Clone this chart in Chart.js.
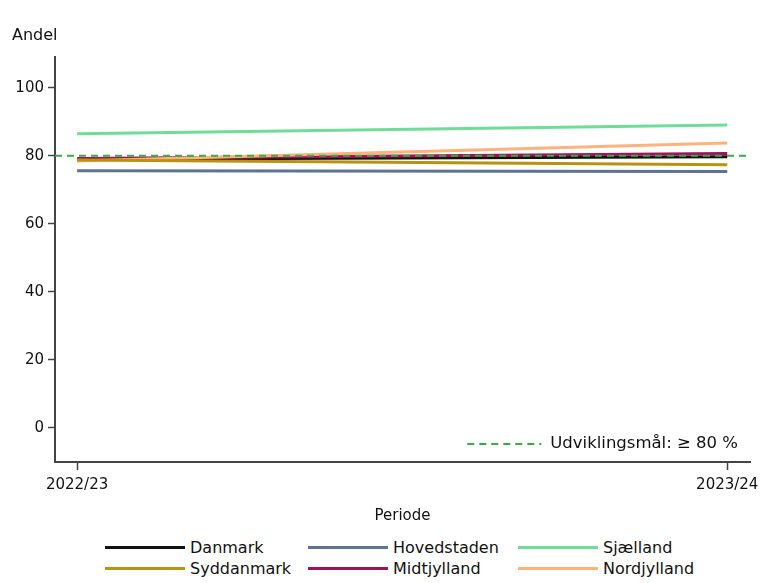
<!DOCTYPE html>
<html>
<head>
<meta charset="utf-8">
<script src="https://cdn.jsdelivr.net/npm/chart.js@4/dist/chart.umd.min.js"></script>
<style>
  body { margin: 0; background: #fff; font-family: 'DejaVu Sans', sans-serif; }
  #wrap { position: relative; width: 766px; height: 583px; }
  #chartBox { position: absolute; left: 0; top: 0; width: 766px; height: 530px; }
  #legend { position: absolute; left: 105px; top: 537px; display: grid;
            grid-template-columns: 203px 210px 200px; row-gap: 1px; font-size: 16px; color: #111; }
  .item { display: flex; align-items: center; height: 20px; }
  .swatch { width: 80px; height: 3px; margin-right: 5px; }
</style>
</head>
<body>
<div id="wrap">
  <div id="chartBox"><canvas id="chart"></canvas></div>
  <div id="legend"></div>
</div>
<script>
// Data
const periods = ['2022/23', '2023/24'];
const regions = ['Danmark', 'Hovedstaden', 'Sjælland', 'Syddanmark', 'Midtjylland', 'Nordjylland'];
const danmark = [79.0, 79.7];
const hovedstaden = [75.6, 75.4];
const sjaelland = [86.5, 89.1];
const syddanmark = [78.8, 77.4];
const midtjylland = [79.2, 80.7];
const nordjylland = [78.5, 83.8];
const targetValue = 80;
const targetLabel = 'Udviklingsmål: ≥ 80 %';
const yTicks = [0, 20, 40, 60, 80, 100];

const colors = {
    'Danmark': '#111111',
    'Hovedstaden': '#5c7391',
    'Sjælland': '#6fdc98',
    'Syddanmark': '#b8930f',
    'Midtjylland': '#a3105c',
    'Nordjylland': '#ffb27c'
};
const seriesValues = {
    'Danmark': danmark,
    'Hovedstaden': hovedstaden,
    'Sjælland': sjaelland,
    'Syddanmark': syddanmark,
    'Midtjylland': midtjylland,
    'Nordjylland': nordjylland
};

// draw order: bottom first
const drawOrder = ['Hovedstaden', 'Syddanmark', 'Nordjylland', 'Sjælland', 'Midtjylland', 'Danmark'];

const datasets = drawOrder.map(name => ({
    label: name,
    data: seriesValues[name].map((v, i) => ({ x: i, y: v })),
    borderColor: colors[name],
    borderWidth: 3,
    pointRadius: 0,
    fill: false,
    tension: 0
}));

// dashed target line + inner legend
const targetPlugin = {
    id: 'target',
    afterDatasetsDraw(chart) {
        const ctx = chart.ctx;
        const area = chart.chartArea;
        const y = chart.scales.y.getPixelForValue(targetValue);
        ctx.save();
        ctx.strokeStyle = '#3aaa45';
        ctx.lineWidth = 2;
        ctx.setLineDash([7, 5]);
        ctx.beginPath();
        ctx.moveTo(area.left, y);
        ctx.lineTo(area.right, y);
        ctx.stroke();

        // legend entry inside plot
        const ly = area.bottom - 18;
        const lx2 = area.right - 12;
        ctx.font = '16.5px "DejaVu Sans"';
        const tw = ctx.measureText(targetLabel).width;
        const textX = lx2 - tw;
        ctx.beginPath();
        ctx.moveTo(textX - 83, ly);
        ctx.lineTo(textX - 9, ly);
        ctx.stroke();
        ctx.setLineDash([]);
        ctx.fillStyle = '#111';
        ctx.textBaseline = 'middle';
        ctx.fillText(targetLabel, textX, ly);
        ctx.restore();
    }
};

new Chart(document.getElementById('chart').getContext('2d'), {
    type: 'line',
    data: { datasets },
    plugins: [targetPlugin],
    options: {
        responsive: true,
        maintainAspectRatio: false,
        animation: false,
        layout: { padding: { left: 12, right: 16, top: 26, bottom: 0 } },
        plugins: {
            legend: { display: false },
            tooltip: { enabled: false },
            title: {
                display: true,
                text: 'Andel',
                align: 'start',
                color: '#111',
                font: { family: 'DejaVu Sans', size: 16, weight: 'normal' },
                padding: { top: 0, bottom: 12 }
            }
        },
        scales: {
            x: {
                type: 'linear',
                min: -0.034,
                max: 1.035,
                afterBuildTicks: axis => { axis.ticks = periods.map((p, i) => ({ value: i })); },
                afterFit: axis => { axis.height = 68; },
                ticks: {
                    callback: v => periods[v],
                    color: '#111',
                    maxRotation: 0,
                    padding: 6,
                    font: { family: 'DejaVu Sans', size: 15 }
                },
                grid: { drawOnChartArea: false, drawTicks: true, tickLength: 8, color: '#444', tickWidth: 1.5 },
                border: { display: true, color: '#444', width: 2 },
                title: {
                    display: true,
                    text: 'Periode',
                    color: '#111',
                    font: { family: 'DejaVu Sans', size: 15 },
                    padding: { top: 10, bottom: 5 }
                }
            },
            y: {
                min: -10,
                max: 109,
                afterBuildTicks: axis => { axis.ticks = yTicks.map(v => ({ value: v })); },
                afterFit: axis => { axis.width = 43; },
                ticks: {
                    color: '#111',
                    padding: 4,
                    font: { family: 'DejaVu Sans', size: 15 }
                },
                grid: { drawOnChartArea: false, drawTicks: true, tickLength: 7, color: '#444', tickWidth: 1.5 },
                border: { display: true, color: '#444', width: 2 }
            }
        }
    }
});

// HTML legend in the reference's 3x2 layout
const legendOrder = ['Danmark', 'Hovedstaden', 'Sjælland', 'Syddanmark', 'Midtjylland', 'Nordjylland'];
const legendEl = document.getElementById('legend');
legendOrder.forEach(name => {
    const item = document.createElement('div');
    item.className = 'item';
    const sw = document.createElement('span');
    sw.className = 'swatch';
    sw.style.background = colors[name];
    const label = document.createElement('span');
    label.textContent = name;
    item.appendChild(sw);
    item.appendChild(label);
    legendEl.appendChild(item);
});
</script>
</body>
</html>
